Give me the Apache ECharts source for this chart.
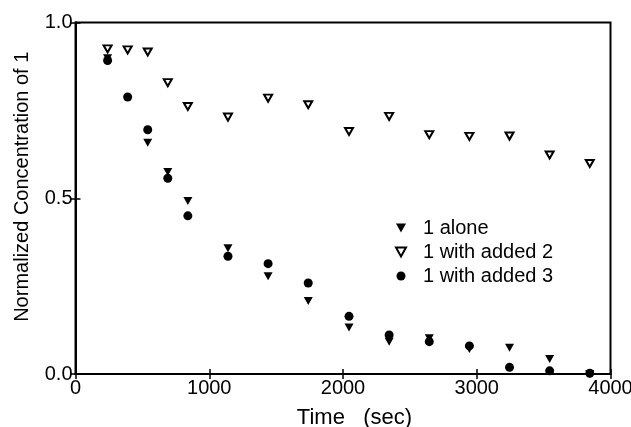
<!DOCTYPE html>
<html>
<head>
<meta charset="utf-8">
<script src="https://cdn.jsdelivr.net/npm/echarts@6/dist/echarts.min.js"></script>
<style>html,body{margin:0;padding:0;background:#fff;}#c{width:631px;height:427px;}</style>
</head>
<body>
<div id="c"></div>
<script>
const times = [240, 390, 540, 690, 840, 1140, 1440, 1740, 2045, 2345, 2645, 2945, 3245, 3545, 3845];
const alone = [0.898, null, 0.658, 0.575, 0.492, 0.358, 0.278, 0.208, 0.132, 0.092, 0.102, 0.071, 0.075, 0.043, 0.0];
const added2 = [0.925, 0.922, 0.916, 0.829, 0.761, 0.731, 0.785, 0.766, 0.690, 0.733, 0.681, 0.676, 0.677, 0.623, 0.599];
const added3 = [0.892, 0.788, 0.695, 0.557, 0.450, 0.335, 0.314, 0.259, 0.164, 0.111, 0.092, 0.080, 0.019, 0.009, 0.002];
const seriesNames = ['1 alone', '1 with added 2', '1 with added 3'];
const xTicks = [0, 1000, 2000, 3000, 4000];
const yTicks = [0, 0.5, 1.0];

const pair = arr => times.map((t, i) => arr[i] == null ? null : [t, arr[i]]).filter(p => p);
const tri = 'path://M0,0L10,0L5,9Z';
const font = 'Liberation Sans';
const chart = echarts.init(document.getElementById('c'), null, {renderer: 'canvas'});
chart.setOption({
  animation: false,
  backgroundColor: '#fff',
  grid: {left: 75.5, right: 20.5, top: 22.5, bottom: 53, containLabel: false, outerBoundsMode: 'none',
    show: true, borderColor: '#000', borderWidth: 2, backgroundColor: 'transparent'},
  legend: {
    orient: 'vertical', left: 390, top: 213, itemWidth: 34, itemHeight: 9, itemGap: 4,
    textStyle: {fontFamily: font, fontSize: 20, color: '#000', lineHeight: 20},
    data: seriesNames
  },
  xAxis: [{
    type: 'value', min: 0, max: 4000, interval: 1000,
    name: 'Time   (sec)', nameLocation: 'middle', nameGap: 33,
    nameTextStyle: {fontFamily: font, fontSize: 22, color: '#000', padding: [0, 0, 0, 23]},
    axisLine: {show: true, lineStyle: {color: '#000', width: 2}},
    axisTick: {show: true, inside: true, length: 5, lineStyle: {color: '#000', width: 1.5}},
    axisLabel: {fontFamily: font, fontSize: 20, color: '#000', margin: 4,
      formatter: v => xTicks.includes(v) ? String(v) : ''},
    splitLine: {show: false}
  }, {
    type: 'value', min: 0, max: 4000, interval: 1000, position: 'top',
    axisLine: {show: true, lineStyle: {color: '#000', width: 2}},
    axisTick: {show: true, inside: true, length: 5, lineStyle: {color: '#000', width: 1.5}},
    axisLabel: {show: false}, splitLine: {show: false}
  }],
  yAxis: [{
    type: 'value', min: 0, max: 1, interval: 0.5,
    name: 'Normalized Concentration of 1', nameLocation: 'middle', nameGap: 43,
    nameTextStyle: {fontFamily: font, fontSize: 20, color: '#000', padding: [0, 0, 0, 23]},
    axisLine: {show: true, lineStyle: {color: '#000', width: 2}},
    axisTick: {show: true, inside: true, length: 5, lineStyle: {color: '#000', width: 1.5}},
    axisLabel: {fontFamily: font, fontSize: 20, color: '#000', margin: 3,
      formatter: v => yTicks.includes(v) ? v.toFixed(1) : ''},
    splitLine: {show: false}
  }, {
    type: 'value', min: 0, max: 1, interval: 0.5, position: 'right',
    axisLine: {show: true, lineStyle: {color: '#000', width: 2}},
    axisTick: {show: true, inside: true, length: 5, lineStyle: {color: '#000', width: 1.5}},
    axisLabel: {show: false}, splitLine: {show: false}
  }],
  series: [{
    name: seriesNames[0], type: 'scatter', data: pair(alone),
    symbol: tri, symbolSize: [9, 8], itemStyle: {color: '#000', opacity: 1}
  }, {
    name: seriesNames[1], type: 'scatter', data: pair(added2),
    symbol: tri, symbolSize: [8, 7], itemStyle: {color: '#fff', borderColor: '#000', borderWidth: 2, opacity: 1}
  }, {
    name: seriesNames[2], type: 'scatter', data: pair(added3),
    symbol: 'circle', symbolSize: 9, itemStyle: {color: '#000', opacity: 1}
  }]
});
</script>
</body>
</html>
